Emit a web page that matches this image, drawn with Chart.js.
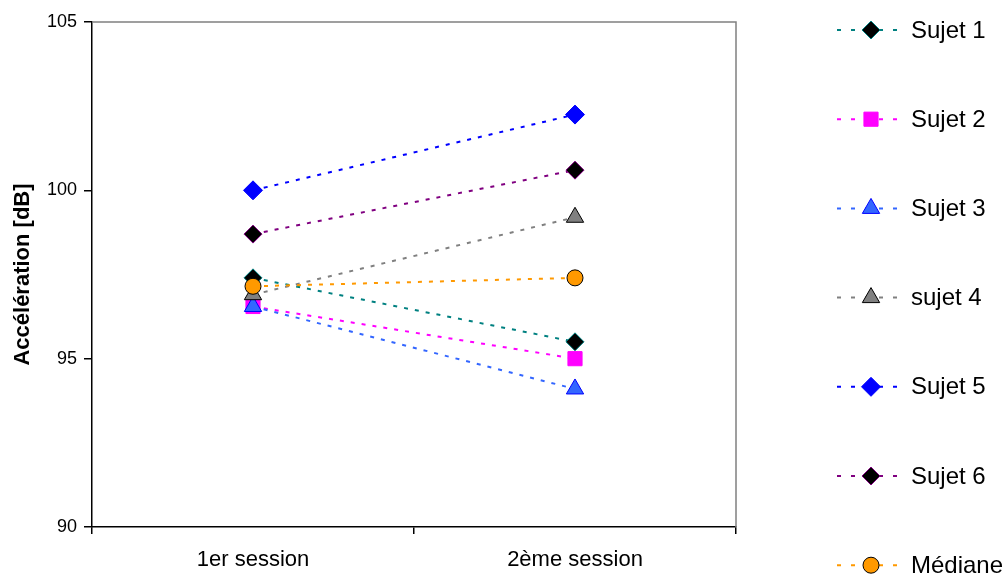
<!DOCTYPE html>
<html>
<head>
<meta charset="utf-8">
<script src="https://cdn.jsdelivr.net/npm/chart.js@4/dist/chart.umd.min.js"></script>
<style>
  html, body { margin: 0; padding: 0; background: #fff; }
  #wrap { width: 1003px; height: 574px; }
</style>
</head>
<body>
<div id="wrap"><canvas id="c" width="1003" height="574"></canvas></div>
<script>
// ---- data ----
const categories = ["1er session", "2ème session"];
const seriesNames = ["Sujet 1", "Sujet 2", "Sujet 3", "sujet 4", "Sujet 5", "Sujet 6", "Médiane"];
const sujet1 = [97.4, 95.5];
const sujet2 = [96.55, 95.0];
const sujet3 = [96.55, 94.1];
const sujet4 = [96.9, 99.2];
const sujet5 = [100.0, 102.25];
const sujet6 = [98.7, 100.6];
const mediane = [97.15, 97.4];
const yTicks = [90, 95, 100, 105];

const FONT = "'Liberation Sans', Arial, sans-serif";

const styles = [
  { line: "#008080", fill: "#000000", border: "#008080", shape: "rectRot", r: 9 },
  { line: "#FF00FF", fill: "#FF00FF", border: "#FF00FF", shape: "rect", r: 10 },
  { line: "#3366FF", fill: "#3366FF", border: "#0000FF", shape: "triangle", r: 10 },
  { line: "#808080", fill: "#808080", border: "#000000", shape: "triangle", r: 10 },
  { line: "#0000FF", fill: "#0000FF", border: "#0000FF", shape: "rectRot", r: 9.5 },
  { line: "#800080", fill: "#000000", border: "#800080", shape: "rectRot", r: 9 },
  { line: "#FF9900", fill: "#FF9900", border: "#000000", shape: "circle", r: 8 }
];
const seriesData = [sujet1, sujet2, sujet3, sujet4, sujet5, sujet6, mediane];

const DASH = [4, 7];

const datasets = seriesData.map((d, i) => ({
  label: seriesNames[i],
  data: d,
  borderColor: styles[i].line,
  borderWidth: 2,
  borderDash: DASH,
  backgroundColor: styles[i].fill,
  pointStyle: styles[i].shape,
  pointRadius: styles[i].r,
  pointHoverRadius: styles[i].r,
  pointBackgroundColor: styles[i].fill,
  pointBorderColor: styles[i].border,
  pointBorderWidth: 1,
  tension: 0,
  order: seriesData.length - 1 - i
}));

// plot frame: grey top & right borders
const framePlugin = {
  id: 'frame',
  beforeDatasetsDraw(chart) {
    const { ctx, chartArea: a } = chart;
    ctx.save();
    ctx.strokeStyle = '#808080';
    ctx.lineWidth = 1.5;
    ctx.beginPath();
    ctx.moveTo(a.left, a.top);
    ctx.lineTo(a.right, a.top);
    ctx.lineTo(a.right, a.bottom);
    ctx.stroke();
    ctx.restore();
  }
};

// custom legend on the right with wide spacing
const legendPlugin = {
  id: 'customLegend',
  afterDraw(chart) {
    const ctx = chart.ctx;
    const x0 = 837, x1 = 900, mx = 871, tx = 911;
    const y0 = 30, dy = 89.2;
    chart.data.datasets.forEach((ds, i) => {
      const y = y0 + i * dy;
      ctx.save();
      ctx.strokeStyle = ds.borderColor;
      ctx.lineWidth = 2;
      ctx.setLineDash([4, 10]);
      ctx.beginPath();
      ctx.moveTo(x0, y);
      ctx.lineTo(x1, y);
      ctx.stroke();
      ctx.setLineDash([]);
      ctx.fillStyle = ds.pointBackgroundColor;
      ctx.strokeStyle = ds.pointBorderColor;
      ctx.lineWidth = 1;
      Chart.helpers.drawPoint(ctx, { pointStyle: ds.pointStyle, radius: ds.pointRadius, rotation: 0, borderWidth: 1 }, mx, y);
      ctx.fillStyle = '#000';
      ctx.font = "24px " + FONT;
      ctx.textAlign = 'left';
      ctx.textBaseline = 'middle';
      ctx.fillText(ds.label, tx, y + 1);
      ctx.restore();
    });
  }
};

new Chart(document.getElementById('c'), {
  type: 'line',
  data: { labels: categories, datasets },
  plugins: [framePlugin, legendPlugin],
  options: {
    responsive: false,
    animation: false,
    devicePixelRatio: 1,
    layout: { autoPadding: false, padding: { top: 22, right: 267, left: 0, bottom: 0 } },
    plugins: { legend: { display: false }, tooltip: { enabled: false } },
    scales: {
      x: {
        type: 'category',
        offset: true,
        afterFit(s) { s.height = 47; },
        grid: { offset: true, drawOnChartArea: false, drawTicks: true, tickLength: 7, color: '#000', lineWidth: 1.5 },
        border: { display: true, color: '#000', width: 1.5 },
        ticks: { color: '#000', font: { family: FONT, size: 22 }, padding: 13, maxRotation: 0 }
      },
      y: {
        min: 90, max: 105,
        afterFit(s) { s.width = 92; },
        afterBuildTicks(s) { s.ticks = yTicks.map(v => ({ value: v })); },
        grid: { drawOnChartArea: false, drawTicks: true, tickLength: 8, color: '#000', lineWidth: 1.5 },
        border: { display: true, color: '#000', width: 1.5 },
        ticks: { color: '#000', font: { family: FONT, size: 18 }, padding: 7 },
        title: { display: true, text: 'Accélération [dB]', color: '#000', font: { family: FONT, size: 22, weight: 'bold' }, padding: { top: 10, bottom: 0 } }
      }
    }
  }
});
</script>
</body>
</html>
